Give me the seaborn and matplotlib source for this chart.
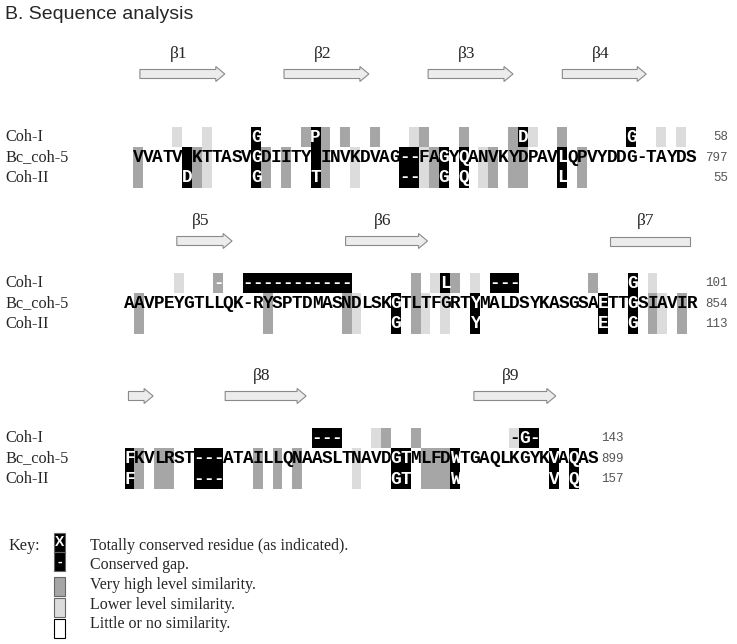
import numpy as np
import matplotlib
matplotlib.use('Agg')
import matplotlib.pyplot as plt
from matplotlib.colors import ListedColormap
from matplotlib.patches import FancyArrow, Rectangle
import seaborn as sns

sns.set_style('white')

# === data ===
ROWS = ['Coh-I', 'Bc_coh-5', 'Coh-II']

SEQ1 = 'VVATVIKTTASVGDIITYIINVKDVAG--FAGYQANVKYDPAVLQPVYDDG-TAYDS'
SEQ2 = 'AAVPEYGTLLQK-RYSPTDMASNDLSKGTLTFGRTYMALDSYKASGSAETTGSIAVIR'
SEQ3 = 'FKVLRST---ATAILLQNAASLTNAVDGTMLFDWTGAQLKGYKVAQAS'

# shading per column  l = lower similarity, m = very high similarity, k = totally conserved
TOP1 = {4: 'l', 7: 'l', 12: 'k', 17: 'm', 18: 'k', 19: 'm', 21: 'm', 24: 'm', 28: 'l', 29: 'm',
        33: 'm', 38: 'm', 39: 'k', 40: 'l', 43: 'm', 50: 'k', 53: 'l', 55: 'l'}
LOW1 = {0: 'm', 5: 'k', 6: 'm', 7: 'l', 12: 'k', 13: 'm', 15: 'm', 18: 'k', 19: 'm', 22: 'l',
        27: 'k', 28: 'k', 29: 'l', 30: 'm', 31: 'k', 33: 'k', 35: 'l', 36: 'm', 38: 'm', 39: 'm',
        43: 'k', 45: 'm'}
RES_TOP1 = {12: 'G', 18: 'P', 39: 'D', 50: 'G'}
RES_LOW1 = {5: 'D', 12: 'G', 18: 'T', 27: '-', 28: '-', 31: 'G', 33: 'Q', 43: 'L'}

TOP2 = {5: 'l', 9: 'm', 12: 'k', 13: 'k', 14: 'k', 15: 'k', 16: 'k', 17: 'k', 18: 'k', 19: 'k',
        20: 'k', 21: 'k', 22: 'k', 29: 'm', 31: 'l', 32: 'k', 33: 'm', 35: 'l', 37: 'k', 38: 'k',
        39: 'k', 47: 'm', 51: 'k', 53: 'l'}
LOW2 = {1: 'm', 14: 'm', 22: 'm', 23: 'l', 27: 'k', 29: 'm', 30: 'l', 32: 'l', 35: 'k', 48: 'k',
        51: 'k', 53: 'm', 54: 'l', 56: 'm'}
RES_TOP2 = {9: '-', 12: '-', 13: '-', 14: '-', 15: '-', 16: '-', 17: '-', 18: '-', 19: '-',
            20: '-', 21: '-', 22: '-', 32: 'L', 37: '-', 38: '-', 39: '-', 51: 'G'}
RES_LOW2 = {27: 'G', 35: 'Y', 48: 'E', 51: 'G'}

TOP3 = {19: 'k', 20: 'k', 21: 'k', 25: 'l', 26: 'm', 29: 'm', 39: 'l', 40: 'k', 41: 'k'}
LOW3 = {0: 'k', 1: 'm', 3: 'm', 4: 'm', 7: 'k', 8: 'k', 9: 'k', 13: 'm', 15: 'm', 17: 'm',
        23: 'l', 27: 'k', 28: 'k', 30: 'm', 31: 'm', 32: 'm', 33: 'k', 43: 'k', 45: 'k'}
RES_TOP3 = {19: '-', 20: '-', 21: '-', 39: '-', 40: 'G', 41: '-'}
RES_LOW3 = {0: 'F', 7: '-', 8: '-', 9: '-', 27: 'G', 28: 'T', 33: 'W', 43: 'V', 45: 'Q'}

ENDS = [(58, 797, 55), (101, 854, 113), (143, 899, 157)]

# secondary structure: (label, start col, end col, arrow head)
BETA1 = [('β1', 0.7, 9.3, True), ('β2', 15.3, 23.9, True), ('β3', 29.9, 38.5, True), ('β4', 43.5, 52.0, True)]
BETA2 = [('β5', 5.3, 10.9, True), ('β6', 22.4, 30.7, True), ('β7', 49.2, 57.3, False)]
BETA3 = [('', 0.4, 2.9, True), ('β8', 10.2, 18.4, True), ('β9', 35.4, 43.7, True)]

KEY_TEXT = ['Totally conserved residue (as indicated).', 'Conserved gap.',
            'Very high level similarity.', 'Lower level similarity.', 'Little or no similarity.']
KEY_SHADE = ['k', 'k', 'm', 'l', ' ']
KEY_MARK = ['X', '-', '', '', '']

BLOCKS = [(SEQ1, TOP1, LOW1, RES_TOP1, RES_LOW1, BETA1),
          (SEQ2, TOP2, LOW2, RES_TOP2, RES_LOW2, BETA2),
          (SEQ3, TOP3, LOW3, RES_TOP3, RES_LOW3, BETA3)]

# === layout (pixels) ===
W, H, DPI = 737, 644, 100
CW, RH = 9.87, 20.4
BLOCK_X = [133, 124.5, 124.5]
BLOCK_Y = [127, 273, 428]
ARROW_Y = [74, 241, 396]
NUM_X = [728, 728, 624]
LEVEL = {' ': 0, 'l': 1, 'm': 2, 'k': 3}
COLORS = ['white', '#dcdcdc', '#a6a6a6', 'black']
cmap = ListedColormap(COLORS)

SERIF = 'Liberation Serif'
MONO = dict(family='Liberation Mono', fontweight='bold', fontsize=12.8)

fig = plt.figure(figsize=(W / DPI, H / DPI), dpi=DPI)
bg = fig.add_axes([0, 0, 1, 1])
bg.set_xlim(0, W); bg.set_ylim(H, 0); bg.axis('off')

bg.text(5, 14, 'B. Sequence analysis', family='Liberation Sans', fontsize=14, va='center')

for b, (seq, top, low, rtop, rlow, beta) in enumerate(BLOCKS):
    n = len(seq)
    grid = np.zeros((3, n))
    for c, s in top.items():
        grid[0, c] = LEVEL[s]
    for c, s in low.items():
        grid[1, c] = grid[2, c] = LEVEL[s]

    x0, y0 = BLOCK_X[b], BLOCK_Y[b]
    ax = fig.add_axes([x0 / W, 1 - (y0 + 3 * RH) / H, n * CW / W, 3 * RH / H])
    sns.heatmap(grid, ax=ax, cmap=cmap, vmin=-0.5, vmax=3.5, cbar=False,
                xticklabels=False, yticklabels=False, linewidths=0)
    ax.axis('off')

    # Bc_coh-5 residues; white only where a partner matches
    for c, ch in enumerate(seq):
        conserved = grid[1, c] == 3 and (rtop.get(c) == ch or rlow.get(c) == ch)
        ax.text(c + 0.5, 1.5, ch, ha='center', va='center',
                color='white' if conserved else 'black', **MONO)
    for r, res in ((0, rtop), (2, rlow)):
        for c, ch in res.items():
            ax.text(c + 0.5, r + 0.5, ch, ha='center', va='center',
                    color='white' if grid[r, c] >= 2 else 'black', **MONO)

    for r, name in enumerate(ROWS):
        yc = y0 + (r + 0.5) * RH
        bg.text(5, yc, name, family=SERIF, fontsize=11.7, va='center')
        bg.text(NUM_X[b], yc, str(ENDS[b][r]), family='Liberation Mono', fontsize=9,
                color='#555555', ha='right', va='center')

    for lab, c0, c1, head in beta:
        xa, xb = x0 + c0 * CW, x0 + c1 * CW
        ya = ARROW_Y[b]
        if head:
            bg.add_patch(FancyArrow(xa, ya, xb - xa, 0, width=9, head_width=15, head_length=9,
                                    length_includes_head=True, fc='#ececec', ec='#8a8a8a', lw=0.8))
        else:
            bg.add_patch(Rectangle((xa, ya - 4.5), xb - xa, 9, fc='#ececec', ec='#8a8a8a', lw=0.8))
        if lab:
            bg.text((xa + xb) / 2 - 4, ya - 20, lab, family=SERIF, fontsize=12.5,
                    ha='center', va='center')

# === key ===
KEY_BOX_Y = [533, 552, 577, 598, 619]
bg.text(8, 546, 'Key:', family=SERIF, fontsize=11.7, va='center')
for i, (txt, sh, mk) in enumerate(zip(KEY_TEXT, KEY_SHADE, KEY_MARK)):
    top_y = KEY_BOX_Y[i]
    hgt = 19
    bg.add_patch(Rectangle((54, top_y), 11, hgt, fc=COLORS[LEVEL[sh]],
                           ec='black' if sh == ' ' else '#666666', lw=0.8))
    if mk:
        bg.text(59.5, top_y + hgt / 2, mk, ha='center', va='center', color='white',
                family='Liberation Sans', fontweight='bold', fontsize=10)
    bg.text(90, 545.5 + 19.7 * i, txt, family=SERIF, fontsize=11.5, va='center')

fig.savefig('out.png', dpi=DPI)
